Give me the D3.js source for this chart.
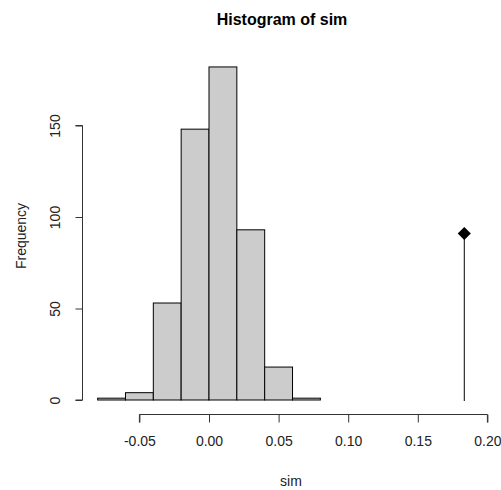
<!DOCTYPE html>
<html lang="en">
  <head>
    <meta charset="utf-8">
    <title>Histogram of sim</title>
    <script src="https://d3js.org/d3.v7.min.js"></script>
    <style>
      body { margin: 0; background: #fff; }
      text { font-family: "Liberation Sans", Arial, sans-serif; }
    </style>
  </head>
  <body>
    <div id="chart"></div>
    <script>
      // histogram bins (break edges) and counts
      var breaks = [-0.08, -0.06, -0.04, -0.02, 0.00, 0.02, 0.04, 0.06, 0.08];
      var counts = [1, 4, 53, 148, 182, 93, 18, 1];
      var xTicks = [-0.05, 0.00, 0.05, 0.10, 0.15, 0.20];
      var yTicks = [0, 50, 100, 150];
      // observed value drawn as a spike with a diamond on top
      var observed = [0.1834];
      var observedHeight = [91];

      var FONT = "'Liberation Sans', Arial, sans-serif";
      var w = 501, h = 490;

      var svg = d3.select("#chart").append("svg")
        .attr("width", w)
        .attr("height", h);

      var xScale = d3.scaleLinear()
        .domain([-0.05, 0.20])
        .range([139.4, 487.4]);

      var yScale = d3.scaleLinear()
        .domain([0, 150])
        .range([400, 125.5]);

      //Bars
      var bins = counts.map(function(c, i) {
        return {x0: breaks[i], x1: breaks[i + 1], n: c};
      });

      svg.selectAll("rect.bar")
        .data(bins)
        .enter().append("rect")
          .attr("class", "bar")
          .attr("x", function(d) { return xScale(d.x0); })
          .attr("y", function(d) { return yScale(d.n); })
          .attr("width", function(d) { return xScale(d.x1) - xScale(d.x0); })
          .attr("height", function(d) { return yScale(0) - yScale(d.n); })
          .attr("fill", "#cccccc")
          .attr("stroke", "#000")
          .attr("stroke-width", 1);

      //Axes, R style
      var xAxis = d3.axisBottom(xScale)
        .tickValues(xTicks)
        .tickSize(8)
        .tickPadding(14)
        .tickFormat(function(d) { return d3.format(".2f")(d).replace("\u2212", "-"); });

      var yAxis = d3.axisLeft(yScale)
        .tickValues(yTicks)
        .tickSize(7)
        .tickPadding(10);

      var gx = svg.append("g")
        .attr("transform", "translate(0,414.5)")
        .call(xAxis);
      gx.select(".domain").attr("d", "M" + xScale(-0.05) + ",8V0H" + xScale(0.20) + "V8");

      var gy = svg.append("g")
        .attr("transform", "translate(82.5,0)")
        .call(yAxis);
      gy.select(".domain").attr("d", "M-7," + yScale(0) + "H0V" + yScale(150) + "H-7");

      svg.selectAll(".tick text")
        .attr("font-size", 14)
        .attr("fill", "#222")
        .style("font-family", FONT);
      svg.selectAll(".domain, .tick line").attr("stroke", "#333");

      gy.selectAll(".tick text")
        .attr("text-anchor", "middle")
        .attr("dy", null)
        .attr("x", null)
        .attr("transform", "translate(-28,0) rotate(-90)")
        .attr("y", 0)
        .attr("dominant-baseline", "central");

      //Observed spike
      svg.selectAll("line.obs")
        .data(observed)
        .enter().append("line")
          .attr("class", "obs")
          .attr("x1", function(d) { return xScale(d); })
          .attr("x2", function(d) { return xScale(d); })
          .attr("y1", yScale(0) + 1)
          .attr("y2", function(d, i) { return yScale(observedHeight[i]); })
          .attr("stroke", "#000")
          .attr("stroke-width", 1);

      svg.selectAll("path.obs")
        .data(observed)
        .enter().append("path")
          .attr("class", "obs")
          .attr("d", d3.symbol().type(d3.symbolDiamond2).size(110))
          .attr("transform", function(d, i) {
            return "translate(" + xScale(d) + "," + yScale(observedHeight[i]) + ")";
          })
          .attr("fill", "#000");

      //Titles
      svg.append("text")
        .text("Histogram of sim")
        .attr("x", 282)
        .attr("y", 25)
        .attr("text-anchor", "middle")
        .attr("font-size", 16)
        .attr("font-weight", "bold");

      svg.append("text")
        .text("sim")
        .attr("x", 291)
        .attr("y", 486)
        .attr("text-anchor", "middle")
        .attr("font-size", 14)
        .attr("fill", "#222");

      svg.append("text")
        .text("Frequency")
        .attr("text-anchor", "middle")
        .attr("font-size", 14)
        .attr("fill", "#222")
        .attr("transform", "translate(25.5,236) rotate(-90)");
    </script>
  </body>
</html>
